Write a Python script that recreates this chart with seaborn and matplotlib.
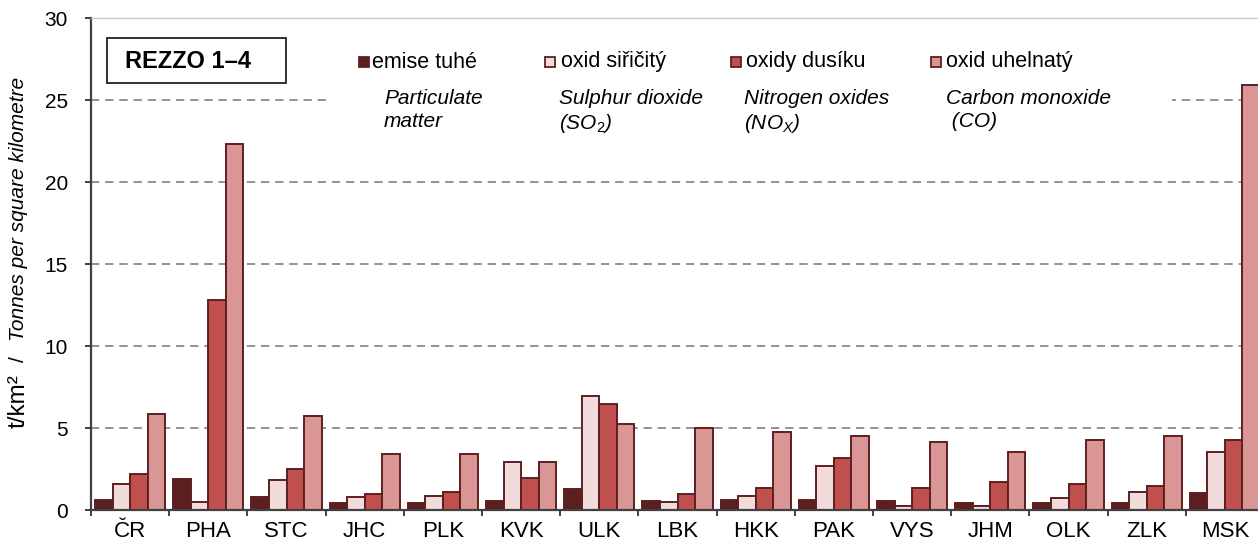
import pandas as pd
import seaborn as sns
from matplotlib import pyplot as plt
from matplotlib.patches import Rectangle

regions = ["ČR", "PHA", "STC", "JHC", "PLK", "KVK", "ULK", "LBK",
           "HKK", "PAK", "VYS", "JHM", "OLK", "ZLK", "MSK"]
series = ["emise tuhé", "oxid siřičitý", "oxidy dusíku", "oxid uhelnatý"]
series_en = ["Particulate\nmatter", "Sulphur dioxide\n(SO$_2$)",
             "Nitrogen oxides\n(NO$_X$)", "Carbon monoxide\n (CO)"]
particulate = [0.64, 1.87, 0.77, 0.40, 0.40, 0.52, 1.26, 0.52, 0.64, 0.64, 0.52, 0.40, 0.40, 0.40, 1.01]
sulphur = [1.58, 0.48, 1.85, 0.77, 0.85, 2.93, 6.98, 0.46, 0.85, 2.69, 0.26, 0.26, 0.75, 1.09, 3.55]
nitrogen = [2.20, 12.8, 2.47, 0.97, 1.09, 1.95, 6.47, 0.97, 1.34, 3.18, 1.34, 1.71, 1.58, 1.46, 4.28]
carbon = [5.88, 22.3, 5.76, 3.42, 3.42, 2.93, 5.27, 5.00, 4.75, 4.53, 4.16, 3.55, 4.28, 4.53, 25.9]
colors = ["#5C1F1F", "#F2DCDB", "#C0504D", "#DA9694"]
edge = "#5E1F20"

W, H = 1258, 544


def fx(x):
    return x / W


def fy(y):
    return 1 - y / H


df = pd.DataFrame({"region": regions * 4,
                   "pollutant": [s for s in series for _ in regions],
                   "value": particulate + sulphur + nitrogen + carbon})

plt.rcParams["font.family"] = ["Liberation Sans", "DejaVu Sans"]
plt.rcParams["mathtext.fontset"] = "custom"
plt.rcParams["mathtext.rm"] = "Liberation Sans"
plt.rcParams["mathtext.it"] = "Liberation Sans:italic"

fig = plt.figure(figsize=(W / 100, H / 100), dpi=100)
ax = fig.add_axes([fx(91), fy(510), (1264 - 91) / W, (510 - 18) / H])

sns.barplot(df, x="region", y="value", hue="pollutant", palette=colors,
            saturation=1, width=0.9, edgecolor=edge, linewidth=1.4,
            legend=False, ax=ax)

ax.set_ylim(0, 30)
ax.set_xlim(-0.5, len(regions) - 0.5)
ax.set_yticks(range(0, 31, 5))
ax.set_axisbelow(True)
ax.yaxis.grid(True, linestyle=(0, (5, 3.5)), color="#808080", linewidth=1.2)
ax.set_xlabel("")
ax.set_ylabel("")
for s in ["left", "bottom"]:
    ax.spines[s].set_color("#404040")
    ax.spines[s].set_linewidth(1.6)
ax.spines["right"].set_visible(False)
ax.spines["top"].set_color("#c8c8c8")
ax.spines["top"].set_linewidth(1.0)
ax.tick_params(axis="y", direction="out", length=4.5, width=1.4, color="#404040",
               labelsize=15, pad=12)
ax.tick_params(axis="x", which="major", length=0, labelsize=16, pad=8)
ax.set_xticks([i + 0.5 for i in range(-1, len(regions))], minor=True)
ax.tick_params(axis="x", which="minor", direction="out", length=4.5, width=1.4,
               color="#404040")

# white legend area covering the gridline
ax.add_patch(Rectangle((fx(330), fy(132)), fx(1172) - fx(330), fy(38) - fy(132),
                       transform=fig.transFigure, facecolor="white",
                       edgecolor="none", zorder=0.8))

# REZZO box
fig.patches.append(Rectangle((fx(107), fy(83)), fx(286) - fx(107), fy(38) - fy(83),
                             transform=fig.transFigure, facecolor="white",
                             edgecolor="#202020", linewidth=1.3))
fig.text(fx(188), fy(61), "REZZO 1–4", ha="center", va="center",
         fontsize=17, fontweight="bold")

# legend, placed by hand like the original
marker_x = [359, 545, 731, 931]
label_x = [372, 561, 746, 946]
en_x = [384, 559, 744, 946]
for c, mx, lx, t in zip(colors, marker_x, label_x, series):
    fig.patches.append(Rectangle((fx(mx), fy(67)), 10 / W, 10 / H,
                                 transform=fig.transFigure, facecolor=c,
                                 edgecolor=edge, linewidth=1.3))
    fig.text(fx(lx), fy(62), t, ha="left", va="center", fontsize=15.5)
for x, t in zip(en_x, series_en):
    fig.text(fx(x), fy(89), t, ha="left", va="top", fontsize=15,
             style="italic", linespacing=1.25)

# y label
fig.text(fx(19), fy(428), "t/km²", rotation=90, ha="center", va="bottom",
         fontsize=17.5)
fig.text(fx(19), fy(362), "/", rotation=90, ha="center", va="bottom",
         fontsize=15)
fig.text(fx(19), fy(341), "Tonnes per square kilometre", rotation=90,
         ha="center", va="bottom", fontsize=15, style="italic")

fig.savefig("out.png", dpi=100)
